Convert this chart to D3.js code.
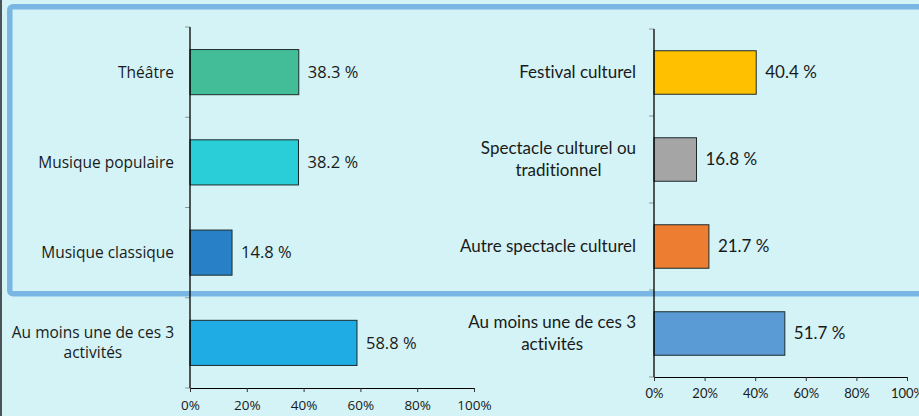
<!DOCTYPE html>
<html>
<head>
<meta charset="utf-8">
<script src="https://cdn.jsdelivr.net/npm/d3@7"></script>
<style>
  body { margin: 0; background: #d3f3f6; }
  svg { display: block; }
  text { font-variant-ligatures: none; font-feature-settings: "liga" 0; }
</style>
</head>
<body>
<script>
// Données : pratiques culturelles (%)
var categoriesGauche = ["Théâtre", "Musique populaire", "Musique classique", "Au moins une de ces 3|activités"];
var valeursGauche = [38.3, 38.2, 14.8, 58.8];
var couleursGauche = ["#43bd98", "#29ced8", "#2881c6", "#1fabe3"];

var categoriesDroite = ["Festival culturel", "Spectacle culturel ou|traditionnel", "Autre spectacle culturel", "Au moins une de ces 3|activités"];
var valeursDroite = [40.4, 16.8, 21.7, 51.7];
var couleursDroite = ["#ffc000", "#a5a5a5", "#ed7d31", "#5b9bd5"];

var graduations = [0, 20, 40, 60, 80, 100];

var width = 919, height = 416;

var svg = d3.select("body").append("svg")
  .attr("width", width)
  .attr("height", height);

// fond + bordure gauche
svg.append("rect").attr("width", width).attr("height", height).attr("fill", "#d3f3f6");
svg.append("rect").attr("width", 2).attr("height", height).attr("fill", "#4d5457");

// cadre bleu autour des trois premières lignes
svg.append("rect")
  .attr("x", 9.8).attr("y", 6.8)
  .attr("width", 940).attr("height", 287)
  .attr("rx", 3)
  .attr("fill", "none")
  .attr("stroke", "#7ab6e4")
  .attr("stroke-width", 5.5);

// Un panneau de barres horizontales
function panneau(cats, vals, cols, opt) {
  var g = svg.append("g");

  var x = d3.scaleLinear().domain([0, 100]).range([opt.x0, opt.x1]);
  var y = d3.scaleBand().domain(cats).range([opt.y0, opt.y1])
    .paddingInner(0.5).paddingOuter(0.25);

  // barres
  g.selectAll("rect.barre").data(cats).join("rect")
    .attr("class", "barre")
    .attr("x", x(0))
    .attr("y", d => y(d))
    .attr("width", (d, i) => x(vals[i]) - x(0))
    .attr("height", y.bandwidth())
    .attr("fill", (d, i) => cols[i])
    .attr("stroke", "#1d2b2b")
    .attr("stroke-width", 1);

  // valeurs
  g.selectAll("text.valeur").data(cats).join("text")
    .attr("class", "valeur")
    .attr("x", (d, i) => x(vals[i]) + 9)
    .attr("y", d => y(d) + y.bandwidth() / 2)
    .attr("dy", "0.35em")
    .attr("font-family", opt.font)
    .attr("font-size", opt.valSize)
    .attr("fill", "#1a1a1a")
    .text((d, i) => vals[i].toFixed(1) + " %");

  // libellés (retour à la ligne avec "|", lignes centrées entre elles)
  cats.forEach(function (c) {
    var lignes = c.split("|");
    var t = g.append("text")
      .attr("font-family", opt.font)
      .attr("font-size", opt.labSize)
      .attr("fill", "#1a1a1a")
      .attr("text-anchor", "middle");
    var cy = y(c) + y.bandwidth() / 2;
    lignes.forEach(function (l, k) {
      t.append("tspan")
        .attr("y", cy + (k - (lignes.length - 1) / 2) * opt.lh)
        .attr("dy", "0.35em")
        .text(l);
    });
    var w = d3.max(t.selectAll("tspan").nodes(), n => n.getComputedTextLength());
    t.selectAll("tspan").attr("x", x(0) - opt.gap - w / 2);
  });

  // graduations de l'axe vertical aux limites des catégories
  var limites = d3.range(cats.length + 1).map(i => opt.y0 + (opt.y1 - opt.y0) * i / cats.length);
  g.selectAll("line.tick-y").data(limites).join("line")
    .attr("class", "tick-y")
    .attr("x1", x(0) - 5).attr("x2", x(0))
    .attr("y1", d => d).attr("y2", d => d)
    .attr("stroke", "#8a9a9c");

  // axe horizontal
  var axe = g.append("g")
    .attr("transform", `translate(0,${opt.y1})`)
    .call(d3.axisBottom(x).tickValues(graduations).tickFormat(d => d + "%")
      .tickSize(4).tickSizeOuter(0).tickPadding(8));
  axe.select(".domain").attr("stroke", "#000");
  axe.selectAll(".tick line").attr("stroke", "#333");
  axe.selectAll("text")
    .attr("font-family", opt.font)
    .attr("font-size", opt.tickSize)
    .attr("fill", "#1a1a1a");

  g.append("line")
    .attr("x1", x(0)).attr("x2", x(0))
    .attr("y1", opt.y0).attr("y2", opt.y1)
    .attr("stroke", "#000").attr("stroke-width", 1.3);
}

panneau(categoriesGauche, valeursGauche, couleursGauche, {
  x0: 190, x1: 474, y0: 27, y1: 388,
  font: "'Open Sans', sans-serif", labSize: 15.5, valSize: 16.5, tickSize: 13.5, lh: 20, gap: 16
});

panneau(categoriesDroite, valeursDroite, couleursDroite, {
  x0: 654, x1: 907, y0: 29, y1: 377,
  font: "Lato, sans-serif", labSize: 17, valSize: 17, tickSize: 13, lh: 22, gap: 18
});
</script>
</body>
</html>
